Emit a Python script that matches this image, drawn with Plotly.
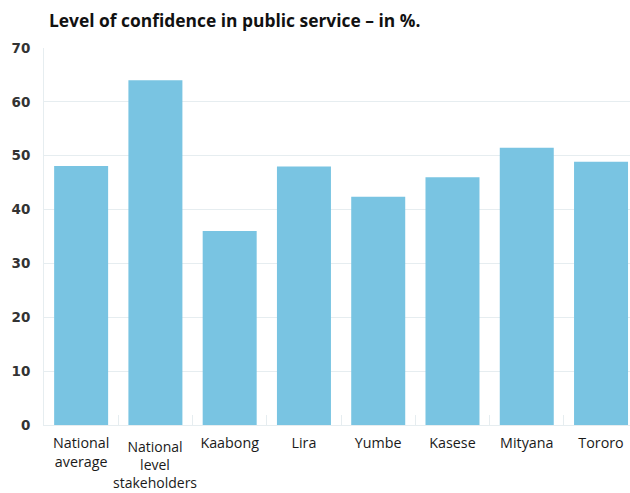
import plotly.graph_objects as go

# Survey results: share of respondents confident in the public service
categories = ["National average", "National level stakeholders", "Kaabong", "Lira",
              "Yumbe", "Kasese", "Mityana", "Tororo"]
tick_labels = ["National<br>average", "National<br>level<br>stakeholders", "Kaabong", "Lira",
               "Yumbe", "Kasese", "Mityana", "Tororo"]
confidence = [48.1, 64.0, 36.0, 48.0, 42.4, 46.0, 51.5, 48.9]
y_ticks = [0, 10, 20, 30, 40, 50, 60, 70]

BAR = "#79c4e2"
GRID = "#e6edf0"
FONT = "Open Sans"

fig = go.Figure(
    go.Bar(
        x=categories,
        y=confidence,
        marker=dict(color=BAR, line=dict(width=0)),
    )
)

# The three-line label sits a little lower than the rest, so it is placed separately
shifted = 1
ticktext = [t if i != shifted else "" for i, t in enumerate(tick_labels)]

fig.add_annotation(
    x=categories[shifted], y=0, xref="x", yref="y",
    text=tick_labels[shifted],
    showarrow=False, yanchor="top", yshift=-11, borderpad=0,
    font=dict(family=FONT, size=14, color="#1a1a1a"),
)

fig.update_layout(
    width=630, height=493,
    margin=dict(l=44, r=0, t=48, b=68),
    paper_bgcolor="white", plot_bgcolor="white",
    bargap=0.273,
    showlegend=False,
    font=dict(family=FONT),
    title=dict(
        text="<b>Level of confidence in public service – in %.</b>",
        x=0, xref="paper", xanchor="left",
        y=1 - 21 / 493, yref="container", yanchor="middle",
        pad=dict(l=5),
        font=dict(family=FONT, size=17.4, color="#111111"),
    ),
    xaxis=dict(
        type="category",
        tickmode="array", tickvals=categories, ticktext=ticktext,
        range=[-0.5, 7.39],
        tickson="boundaries", ticks="inside", ticklen=10, tickcolor=GRID, tickwidth=1,
        showgrid=False, zeroline=False,
        showline=True, linecolor=GRID, linewidth=1,
        ticklabelstandoff=5,
        tickfont=dict(family=FONT, size=14.3, color="#1a1a1a"),
    ),
    yaxis=dict(
        range=[0, 70], tickmode="array", tickvals=y_ticks,
        showgrid=True, gridcolor=GRID, gridwidth=1,
        zeroline=False, showline=True, linecolor=GRID, linewidth=1,
        ticks="", ticklabelstandoff=10,
        tickfont=dict(family="DejaVu Sans", size=13.5, color="#333333", weight="bold"),
    ),
)

fig.write_html("out.html")
